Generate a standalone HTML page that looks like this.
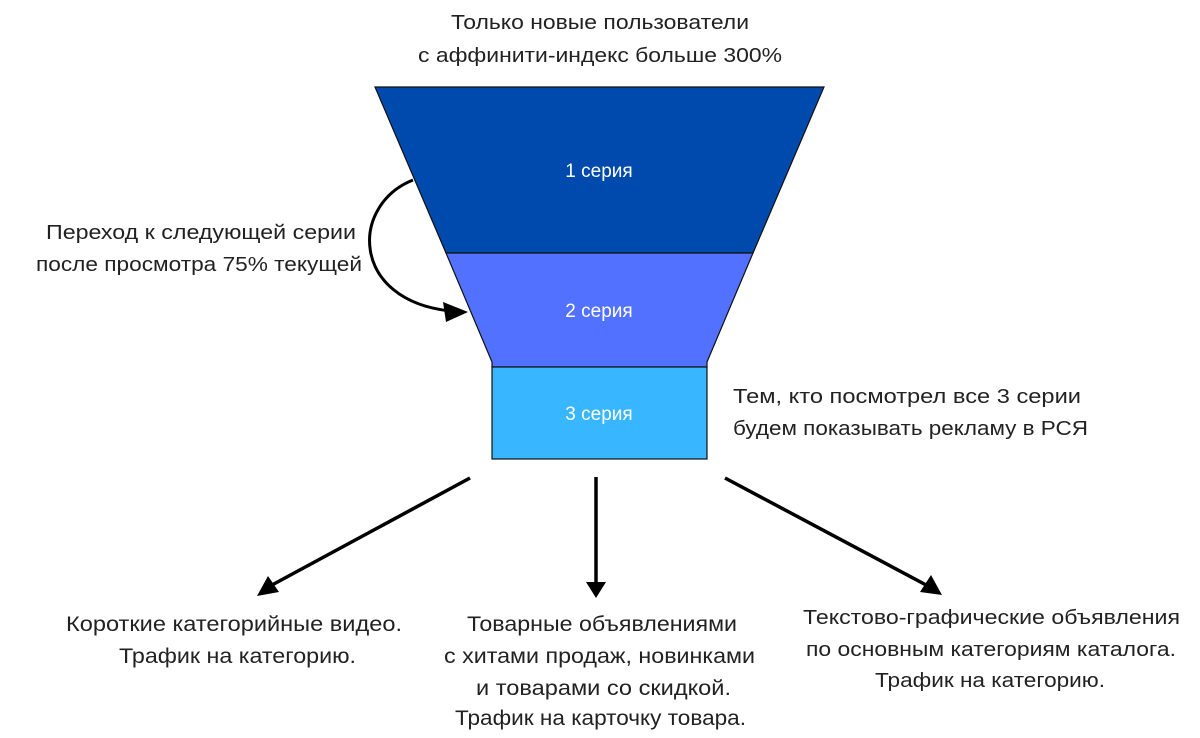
<!DOCTYPE html>
<html><head><meta charset="utf-8"><style>
html,body{margin:0;padding:0;background:#fff;}
svg{display:block;}
text{font-family:"Liberation Sans",sans-serif;fill:#222;font-size:20px;}
.w{fill:#fff;font-size:19px;}
.n{font-size:21px;}
</style></head><body>
<svg width="1200" height="738" viewBox="0 0 1200 738" xmlns="http://www.w3.org/2000/svg">
<polygon points="375,87 824,87 753,253 446,253" fill="#004aad" stroke="#111" stroke-width="1.2"/>
<polygon points="446,253 753,253 707,362 707,367 492,367 492,362" fill="#5271ff" stroke="#111" stroke-width="1.2"/>
<rect x="492" y="367" width="215" height="92" fill="#38b6ff" stroke="#111" stroke-width="1.2"/>
<text class="w" x="599" y="177" text-anchor="middle">1 серия</text>
<text class="w" x="599" y="317" text-anchor="middle">2 серия</text>
<text class="w" x="599" y="420" text-anchor="middle">3 серия</text>

<path d="M413,180 C350,205 350,300 450,311" fill="none" stroke="#000" stroke-width="3"/>
<polygon points="468,312 443,302 446,322" fill="#000"/>

<line x1="470" y1="478" x2="272" y2="585" stroke="#000" stroke-width="3.5"/>
<polygon points="257,596 268,576 279,592" fill="#000"/>
<line x1="596" y1="477" x2="596" y2="584" stroke="#000" stroke-width="3.5"/>
<polygon points="586,582 606,582 596,598" fill="#000"/>
<line x1="725" y1="478" x2="928" y2="586" stroke="#000" stroke-width="3.5"/>
<polygon points="942,595 931,575 920,592" fill="#000"/>

<text x="451" y="29" textLength="298" lengthAdjust="spacingAndGlyphs">Только новые пользователи</text>
<text x="418" y="62" textLength="364" lengthAdjust="spacingAndGlyphs">с  аффинити-индекс больше 300%</text>
<text x="46" y="239" textLength="310" lengthAdjust="spacingAndGlyphs">Переход к следующей серии</text>
<text x="36" y="271" textLength="326" lengthAdjust="spacingAndGlyphs">после просмотра 75% текущей</text>
<text x="733" y="403" textLength="348" lengthAdjust="spacingAndGlyphs">Тем, кто посмотрел все 3 серии</text>
<text x="733" y="435" textLength="355" lengthAdjust="spacingAndGlyphs">будем показывать рекламу в РСЯ</text>

<text class="n" x="66" y="631" textLength="336" lengthAdjust="spacingAndGlyphs">Короткие категорийные видео.</text>
<text class="n" x="119" y="663" textLength="237" lengthAdjust="spacingAndGlyphs">Трафик на категорию.</text>
<text class="n" x="467" y="631" textLength="270" lengthAdjust="spacingAndGlyphs">Товарные объявлениями</text>
<text class="n" x="444" y="663" textLength="311" lengthAdjust="spacingAndGlyphs">с хитами продаж, новинками</text>
<text class="n" x="476" y="695" textLength="255" lengthAdjust="spacingAndGlyphs">и товарами со скидкой.</text>
<text class="n" x="455" y="725" textLength="291" lengthAdjust="spacingAndGlyphs">Трафик на карточку товара.</text>
<text x="803" y="624" textLength="377" lengthAdjust="spacingAndGlyphs">Текстово-графические объявления</text>
<text x="806" y="656" textLength="370" lengthAdjust="spacingAndGlyphs">по основным категориям каталога.</text>
<text x="875" y="687" textLength="230" lengthAdjust="spacingAndGlyphs">Трафик на категорию.</text>
</svg>
</body></html>
